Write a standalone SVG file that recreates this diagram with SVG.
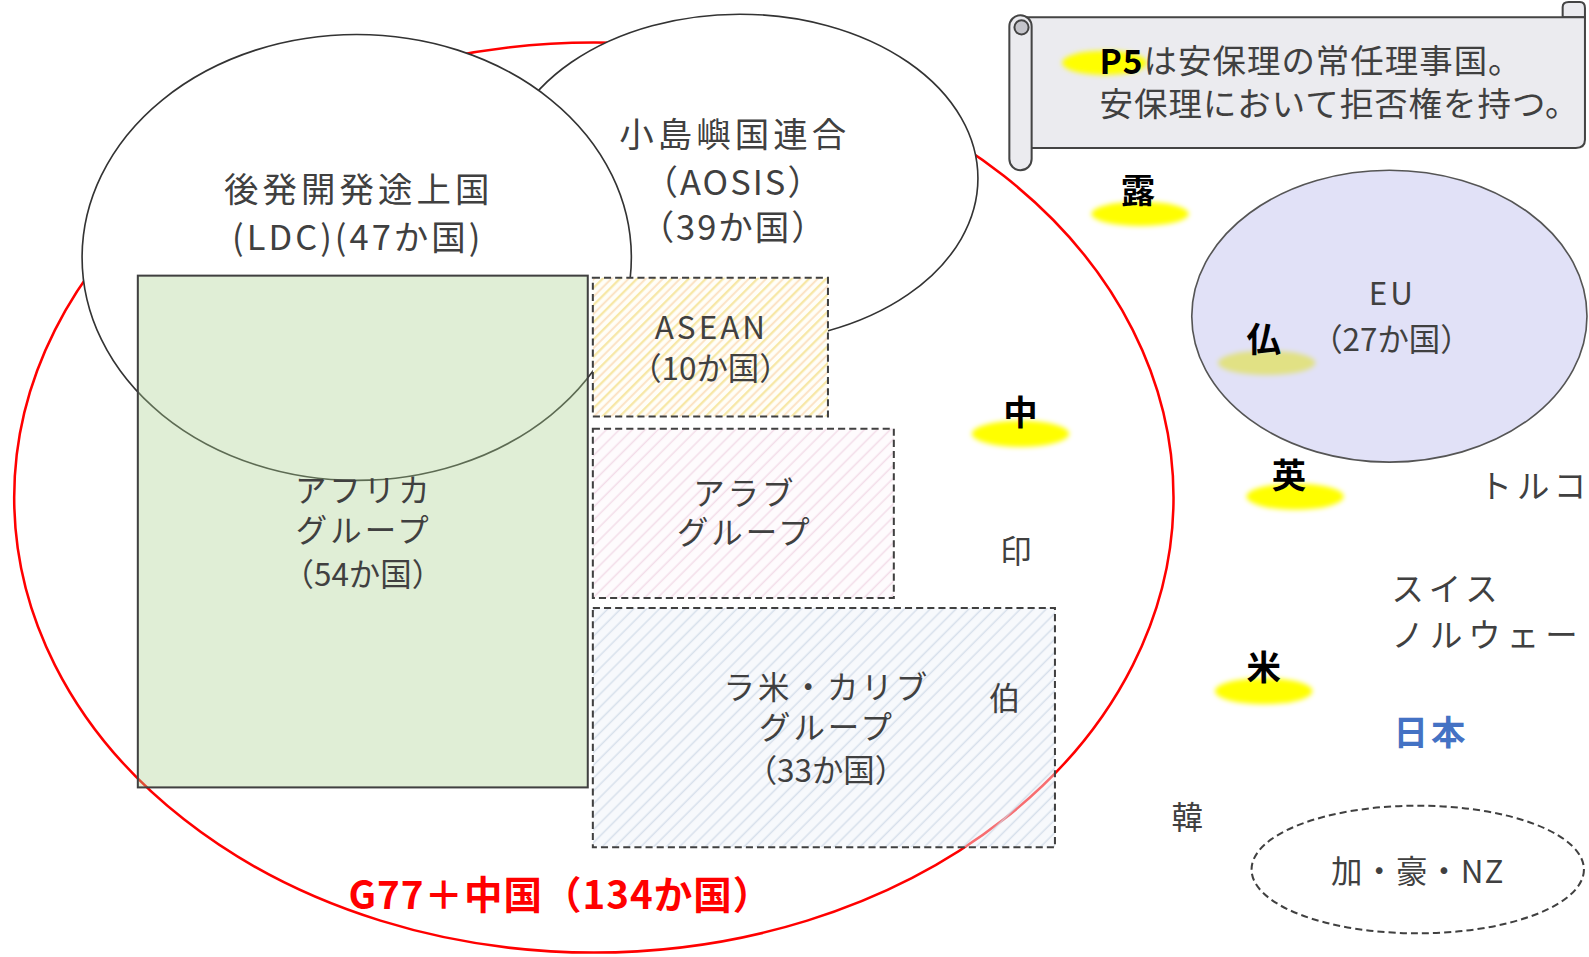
<svg xmlns="http://www.w3.org/2000/svg" width="1589" height="957" viewBox="0 0 1589 957">
<defs>
<style>
text{font-family:"Noto Sans CJK JP","Noto Sans",sans-serif;fill:#404040;dominant-baseline:central}
.lbl{font-size:34px;letter-spacing:4px;text-anchor:middle}
.mid{font-size:31px;letter-spacing:3px;text-anchor:middle}
.p5{font-size:34px;font-weight:bold;fill:#000;text-anchor:middle}
.side{font-size:32px;letter-spacing:5px}
.dash{stroke:#404040;stroke-width:2;stroke-dasharray:7 4}
.hl{fill:#ffff00;filter:url(#blur)}
</style>
<filter id="blur" x="-30%" y="-60%" width="160%" height="220%"><feGaussianBlur stdDeviation="2.5"/></filter>
<pattern id="hAsean" patternUnits="userSpaceOnUse" width="12" height="12" patternTransform="rotate(45)">
<rect width="12" height="12" fill="#fffef8"/>
<line x1="3" y1="0" x2="3" y2="12" stroke="#f7e7a4" stroke-width="2.2"/>
<line x1="9" y1="0" x2="9" y2="12" stroke="#fbe0c0" stroke-width="1.8"/>
</pattern>
<pattern id="hArab" patternUnits="userSpaceOnUse" width="9" height="9" patternTransform="rotate(45)">
<rect width="9" height="9" fill="#fefbfd"/>
<line x1="3" y1="0" x2="3" y2="9" stroke="#f3dde9" stroke-width="1.5"/>
</pattern>
<pattern id="hLatin" patternUnits="userSpaceOnUse" width="9" height="9" patternTransform="rotate(45)">
<rect width="9" height="9" fill="#eef3f8" fill-opacity="0.45"/>
<line x1="3" y1="0" x2="3" y2="9" stroke="#ccd8e5" stroke-width="1.5" stroke-opacity="0.75"/>
</pattern>
</defs>
<rect width="1589" height="957" fill="#ffffff"/>
<g transform="scale(1.0134)">
<g id="g77">
<ellipse cx="586" cy="491" rx="572" ry="449" fill="none" stroke="#ff0000" stroke-width="2.5"/>
</g>
<g id="aosis">
<ellipse cx="730" cy="176" rx="235" ry="162" fill="#ffffff" stroke="#333" stroke-width="1.6"/>
<text class="lbl" x="725" y="130">小島嶼国連合</text>
<text class="lbl" x="724" y="178" style="letter-spacing:2px">（AOSIS）</text>
<text class="lbl" x="724" y="222" style="letter-spacing:2px">（39か国）</text>
</g>
<g id="ldc">
<ellipse cx="352" cy="254" rx="271" ry="220" fill="#ffffff" stroke="#333" stroke-width="1.6"/>
<text class="lbl" x="354" y="185">後発開発途上国</text>
<text class="lbl" x="353" y="232" style="letter-spacing:3px">(LDC)(47か国)</text>
</g>
<g id="africa">
<rect x="136" y="272" width="444" height="505" fill="#a9d18e" fill-opacity="0.36" stroke="#404040" stroke-width="2"/>
<text class="mid" x="359" y="482">アフリカ</text>
<text class="mid" x="359" y="522">グループ</text>
<text class="mid" x="358" y="565" style="letter-spacing:0">（54か国）</text>
</g>
<g id="asean">
<rect x="585" y="274" width="232" height="137" fill="url(#hAsean)" class="dash"/>
<text class="mid" x="702" y="321">ASEAN</text>
<text class="mid" x="701" y="362" style="letter-spacing:0">（10か国）</text>
</g>
<g id="arab">
<rect x="585" y="423" width="297" height="167" fill="url(#hArab)" class="dash"/>
<text class="mid" x="735" y="485">アラブ</text>
<text class="mid" x="735" y="523">グループ</text>
</g>
<g id="latin">
<rect x="585" y="600" width="456" height="236" fill="url(#hLatin)" class="dash"/>
<text class="mid" x="816" y="676">ラ米・カリブ</text>
<text class="mid" x="816" y="716">グループ</text>
<text class="mid" x="815" y="758" style="letter-spacing:0">（33か国）</text>
<text class="mid" x="993" y="687">伯</text>
</g>
<g id="g77-label">
<text x="553" y="880" style="font-size:38px;font-weight:bold;fill:#ff0000;text-anchor:middle;letter-spacing:1px">G77＋中国（134か国）</text>
</g>
<g id="scroll">
<path d="M1542,17 V7 Q1542,2 1548,2 H1559 Q1564,2 1564,8 V17 Z" fill="#ebebef" stroke="#444" stroke-width="2"/>
<path d="M1010,17 H1564 V138 Q1564,146 1555,146 H1010 Z" fill="#ebebef" stroke="#444" stroke-width="2"/>
<rect x="996" y="15" width="22" height="153" rx="11" fill="#ebebef" stroke="#444" stroke-width="2"/>
<circle cx="1008" cy="27" r="7" fill="#c4c4ca" stroke="#444" stroke-width="2"/>
<ellipse class="hl" cx="1090" cy="62" rx="42" ry="12"/>
<text x="1085" y="58" style="font-size:33px;letter-spacing:1px"><tspan style="font-weight:bold;fill:#000">P5</tspan>は安保理の常任理事国。</text>
<text x="1085" y="100" style="font-size:33px;letter-spacing:1px">安保理において拒否権を持つ。</text>
</g>
<g id="russia">
<ellipse class="hl" cx="1125" cy="211" rx="48" ry="12"/>
<text class="p5" x="1123" y="186">露</text>
</g>
<g id="eu">
<ellipse class="hl" cx="1250" cy="358" rx="48" ry="12"/>
<ellipse cx="1371" cy="312" rx="195" ry="144" fill="#c8c8f0" fill-opacity="0.55" stroke="#555" stroke-width="1.6"/>
<text class="mid" x="1374" y="288">EU</text>
<text class="mid" x="1373" y="333" style="letter-spacing:0">（27か国）</text>
<text class="p5" x="1247" y="333">仏</text>
</g>
<g id="china">
<ellipse class="hl" cx="1007" cy="428" rx="48" ry="13"/>
<text class="p5" x="1007" y="405">中</text>
</g>
<g id="uk">
<ellipse class="hl" cx="1278" cy="490" rx="48" ry="13"/>
<text class="p5" x="1272" y="467">英</text>
</g>
<g id="usa">
<ellipse class="hl" cx="1247" cy="682" rx="48" ry="13"/>
<text class="p5" x="1247" y="656">米</text>
</g>
<g id="india"><text class="mid" x="1004" y="542">印</text></g>
<g id="turkey"><text class="side" x="1460" y="477">トルコ</text></g>
<g id="swiss-norway">
<text class="side" x="1373" y="579">スイス</text>
<text class="side" x="1373" y="624" style="letter-spacing:6px">ノルウェー</text>
</g>
<g id="japan"><text x="1375" y="720" style="font-size:34px;font-weight:bold;fill:#4472c4;letter-spacing:3px">日本</text></g>
<g id="korea"><text class="mid" x="1173" y="805">韓</text></g>
<g id="can-aus-nz">
<ellipse cx="1399" cy="858" rx="164" ry="63" fill="none" class="dash"/>
<text class="mid" x="1399" y="858" style="letter-spacing:1px">加・豪・NZ</text>
</g>
<g id="connectors"/>
</g>
</svg>
